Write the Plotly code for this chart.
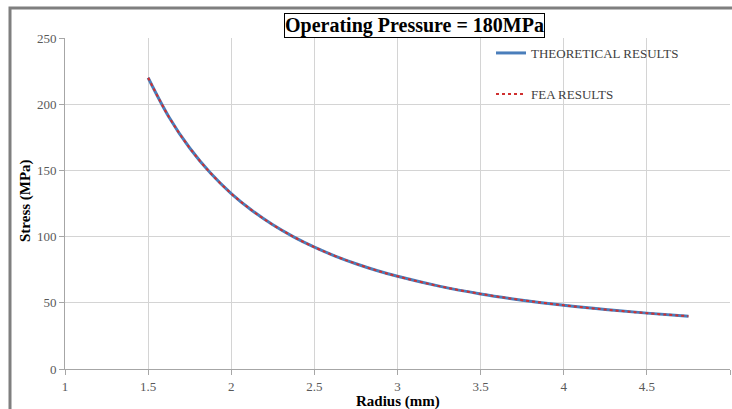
import plotly.graph_objects as go

radius_mm = [1.5, 1.625, 1.75, 1.875, 2.0, 2.125, 2.25, 2.375, 2.5, 2.625, 2.75,
             2.875, 3.0, 3.25, 3.5, 3.75, 4.0, 4.25, 4.5, 4.75]
theoretical_mpa = [220.0, 190.4, 166.9, 148.0, 132.5, 119.7, 108.9, 99.8, 92.0, 85.3, 79.5,
                   74.4, 70.0, 62.6, 56.7, 52.0, 48.1, 44.9, 42.2, 39.9]
fea_mpa = [220.0, 190.4, 166.9, 148.0, 132.5, 119.7, 108.9, 99.8, 92.0, 85.3, 79.5,
           74.4, 70.0, 62.6, 56.7, 52.0, 48.1, 44.9, 42.2, 39.9]
x_ticks = [1, 1.5, 2, 2.5, 3, 3.5, 4, 4.5, 5]
x_tick_text = ["1", "1.5", "2", "2.5", "3", "3.5", "4", "4.5", "5"]
y_ticks = [0, 50, 100, 150, 200, 250]

W, H = 732, 409
ML, MR, MT, MB = 65, 2, 38, 40
PW, PH = W - ML - MR, H - MT - MB

def px(x):
    return (x - ML) / PW

def py(y):
    return (H - MB - y) / PH

serif = "Liberation Serif, Times New Roman, serif"

fig = go.Figure()
fig.add_trace(go.Scatter(
    x=radius_mm, y=theoretical_mpa, mode="lines", name="THEORETICAL RESULTS",
    line=dict(color="#4a7ebb", width=3, shape="spline"), legend="legend"))
fig.add_trace(go.Scatter(
    x=radius_mm, y=fea_mpa, mode="lines", name="FEA RESULTS",
    line=dict(color="#d03030", width=2, dash="dot", shape="spline"), legend="legend2"))

axis_common = dict(
    showgrid=True, gridcolor="#d4d4d4", gridwidth=1,
    showline=True, linecolor="#a6a6a6", linewidth=1,
    ticks="outside", ticklen=5, tickcolor="#a6a6a6",
    tickfont=dict(family=serif, size=13, color="#595959"),
    zeroline=False, automargin=False,
)

fig.update_layout(
    width=W, height=H,
    margin=dict(l=ML, r=MR, t=MT, b=MB),
    paper_bgcolor="white", plot_bgcolor="white",
    xaxis=dict(range=[1, 5], tickvals=x_ticks, ticktext=x_tick_text, **axis_common),
    yaxis=dict(range=[0, 250], tickvals=y_ticks, **axis_common),
    legend=dict(x=px(491), y=py(38), xanchor="left", yanchor="top",
                bgcolor="rgba(0,0,0,0)", font=dict(family=serif, size=13, color="#404040")),
    legend2=dict(x=px(491), y=py(79), xanchor="left", yanchor="top",
                 bgcolor="rgba(0,0,0,0)", font=dict(family=serif, size=13, color="#404040")),
    showlegend=True,
    annotations=[
        dict(text="<b>Operating Pressure = 180MPa</b>", xref="paper", yref="paper",
             x=px(414.5), y=py(25), xanchor="center", yanchor="middle", showarrow=False,
             font=dict(family=serif, size=20, color="black"),
             bordercolor="black", borderwidth=1, borderpad=0, bgcolor="white"),
        dict(text="<b>Radius (mm)</b>", xref="paper", yref="paper",
             x=px(397.5), y=py(401), xanchor="center", yanchor="middle", showarrow=False,
             font=dict(family=serif, size=15, color="black")),
        dict(text="<b>Stress (MPa)</b>", xref="paper", yref="paper", textangle=-90,
             x=px(25), y=py(201), xanchor="center", yanchor="middle", showarrow=False,
             font=dict(family=serif, size=15, color="black")),
    ],
    shapes=[dict(type="rect", xref="paper", yref="paper",
                 x0=px(10), x1=px(760), y0=py(440), y1=py(8),
                 line=dict(color="#7f7f7f", width=3), layer="below")],
)

fig.write_html("out.html", config={"displayModeBar": False},
               post_script="document.body.style.margin='0';document.body.style.overflow='hidden';")
